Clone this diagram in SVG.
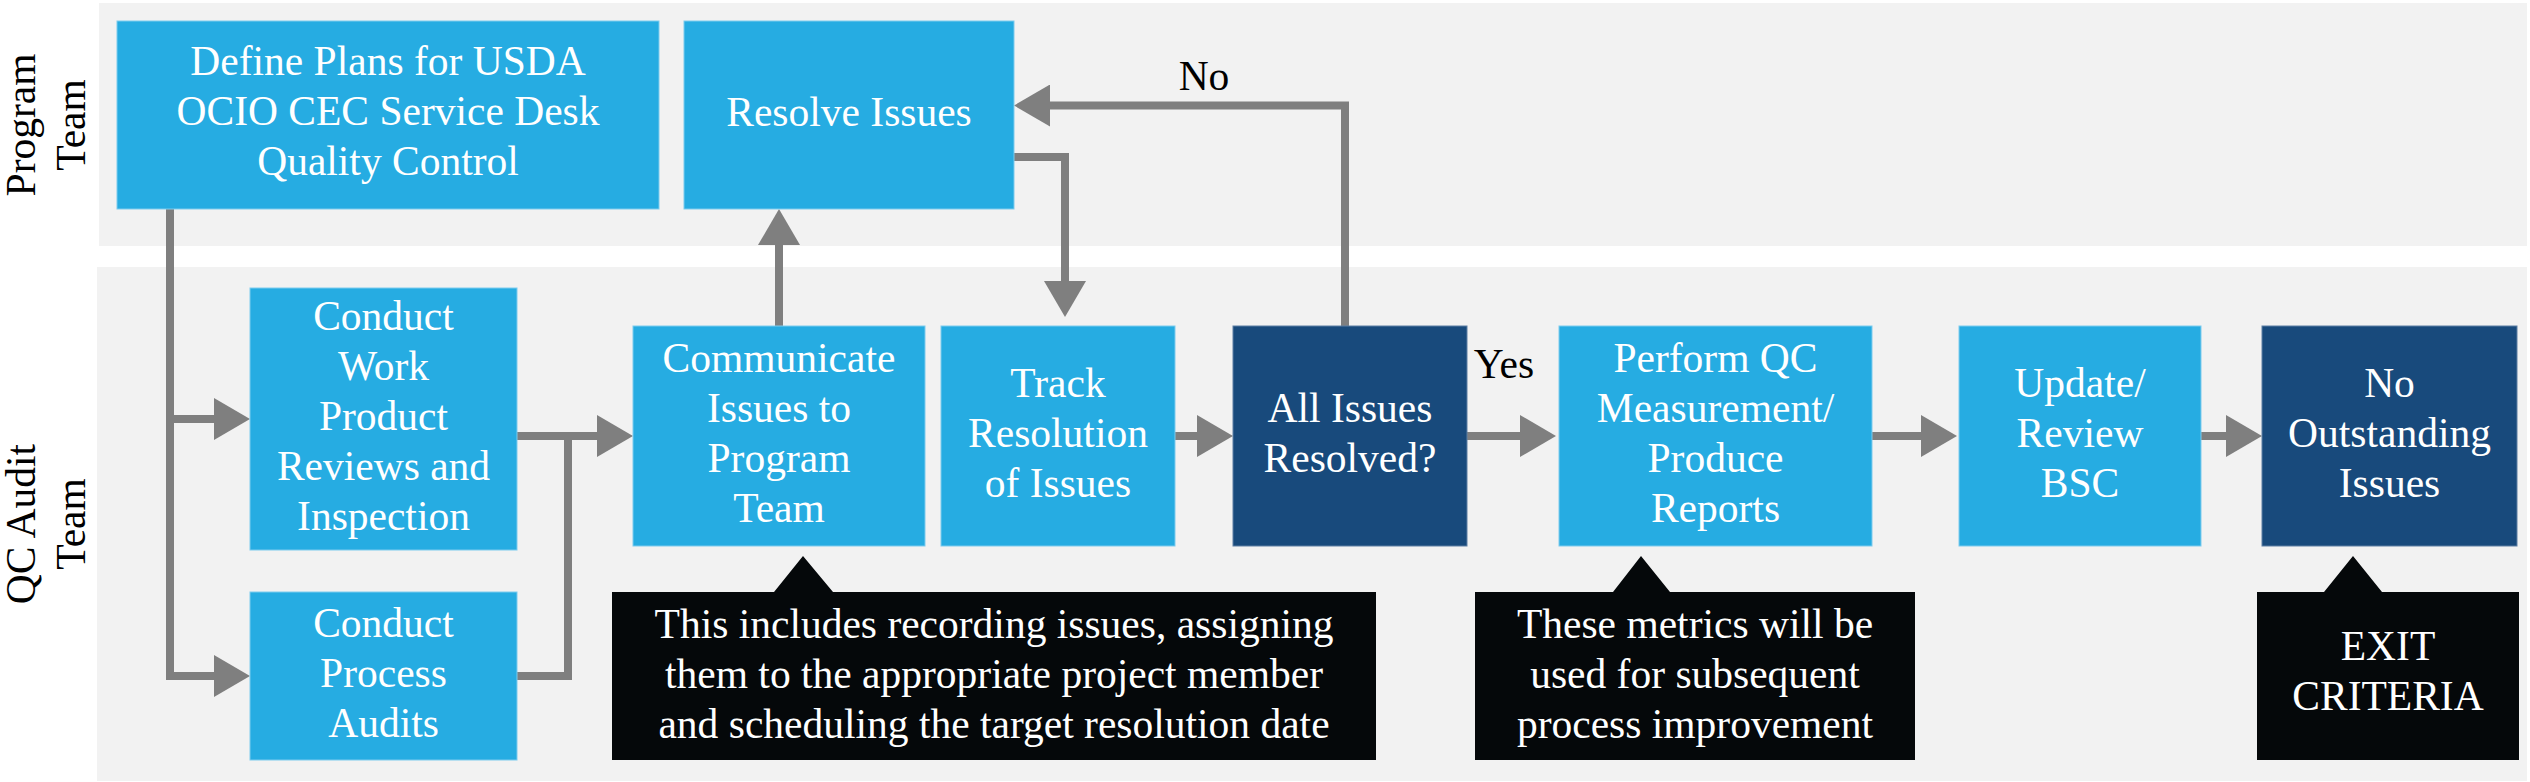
<svg xmlns="http://www.w3.org/2000/svg" width="2530" height="782" viewBox="0 0 2530 782">
<defs>
<style>
.band{fill:#f2f2f2}
.lt{fill:#26ace2;stroke:#7ccbee;stroke-width:1}
.dk{fill:#184a7c;stroke:#5d7fa3;stroke-width:1}
.co{fill:#05080a}
.t{font-family:"Liberation Serif","Times New Roman",serif;font-size:41.5px;text-anchor:middle}
.w{fill:#ffffff}
.b{fill:#000000}
.c{fill:none;stroke:#7f7f7f;stroke-width:8;stroke-linejoin:miter;stroke-linecap:butt}
</style>
<marker id="ah" markerUnits="userSpaceOnUse" markerWidth="36" markerHeight="42" refX="0" refY="21" orient="auto" viewBox="0 0 36 42">
<path d="M0,0 L36,21 L0,42 z" fill="#7f7f7f"/>
</marker>
</defs>
<rect width="2530" height="782" fill="#ffffff"/>
<g id="lanes">
<rect class="band" x="99" y="3" width="2428" height="243"/>
<rect class="band" x="97" y="267" width="2430" height="514"/>
<text class="t b" transform="translate(35,125) rotate(-90)">Program</text>
<text class="t b" transform="translate(85,125) rotate(-90)">Team</text>
<text class="t b" transform="translate(35,524) rotate(-90)">QC Audit</text>
<text class="t b" transform="translate(85,524) rotate(-90)">Team</text>
</g>
<g id="connectors">
<path class="c" d="M170,209 V676 H214" marker-end="url(#ah)"/>
<path class="c" d="M170,419 H214" marker-end="url(#ah)"/>
<path class="c" d="M517,436 H597" marker-end="url(#ah)"/>
<path class="c" d="M517,676 H568 V436"/>
<path class="c" d="M779,326 V245" marker-end="url(#ah)"/>
<path class="c" d="M1014,157 H1065 V281" marker-end="url(#ah)"/>
<path class="c" d="M1175,436 H1197" marker-end="url(#ah)"/>
<path class="c" d="M1345,326 V105.5 H1050" marker-end="url(#ah)"/>
<path class="c" d="M1467,436 H1520" marker-end="url(#ah)"/>
<path class="c" d="M1872,436 H1921" marker-end="url(#ah)"/>
<path class="c" d="M2201,436 H2226" marker-end="url(#ah)"/>
<text class="t b" x="1204" y="90">No</text>
<text class="t b" x="1504" y="378">Yes</text>
</g>
<g id="define">
<rect class="lt" x="117" y="21" width="542" height="188"/>
<text class="t w" x="388" y="75">Define Plans for USDA</text>
<text class="t w" x="388" y="125">OCIO CEC Service Desk</text>
<text class="t w" x="388" y="175">Quality Control</text>
</g>
<g id="resolve">
<rect class="lt" x="684" y="21" width="330" height="188"/>
<text class="t w" x="849" y="126">Resolve Issues</text>
</g>
<g id="conduct-work">
<rect class="lt" x="250" y="288" width="267" height="262"/>
<text class="t w" x="383.5" y="330">Conduct</text>
<text class="t w" x="383.5" y="380">Work</text>
<text class="t w" x="383.5" y="430">Product</text>
<text class="t w" x="383.5" y="480">Reviews and</text>
<text class="t w" x="383.5" y="530">Inspection</text>
</g>
<g id="conduct-process">
<rect class="lt" x="250" y="592" width="267" height="168"/>
<text class="t w" x="383.5" y="637">Conduct</text>
<text class="t w" x="383.5" y="687">Process</text>
<text class="t w" x="383.5" y="737">Audits</text>
</g>
<g id="communicate">
<rect class="lt" x="633" y="326" width="292" height="220"/>
<text class="t w" x="779" y="372">Communicate</text>
<text class="t w" x="779" y="422">Issues to</text>
<text class="t w" x="779" y="472">Program</text>
<text class="t w" x="779" y="522">Team</text>
</g>
<g id="track">
<rect class="lt" x="941" y="326" width="234" height="220"/>
<text class="t w" x="1058" y="397">Track</text>
<text class="t w" x="1058" y="447">Resolution</text>
<text class="t w" x="1058" y="497">of Issues</text>
</g>
<g id="all-resolved">
<rect class="dk" x="1233" y="326" width="234" height="220"/>
<text class="t w" x="1350" y="422">All Issues</text>
<text class="t w" x="1350" y="472">Resolved?</text>
</g>
<g id="perform-qc">
<rect class="lt" x="1559" y="326" width="313" height="220"/>
<text class="t w" x="1715.5" y="372">Perform QC</text>
<text class="t w" x="1715.5" y="422">Measurement/</text>
<text class="t w" x="1715.5" y="472">Produce</text>
<text class="t w" x="1715.5" y="522">Reports</text>
</g>
<g id="update-bsc">
<rect class="lt" x="1959" y="326" width="242" height="220"/>
<text class="t w" x="2080" y="397">Update/</text>
<text class="t w" x="2080" y="447">Review</text>
<text class="t w" x="2080" y="497">BSC</text>
</g>
<g id="no-outstanding">
<rect class="dk" x="2262" y="326" width="255" height="220"/>
<text class="t w" x="2389.5" y="397">No</text>
<text class="t w" x="2389.5" y="447">Outstanding</text>
<text class="t w" x="2389.5" y="497">Issues</text>
</g>
<g id="callout-issues">
<path class="co" d="M612,592 H774 L803,556 L833,592 H1376 V760 H612 z"/>
<text class="t w" x="994" y="638">This includes recording issues, assigning</text>
<text class="t w" x="994" y="688">them to the appropriate project member</text>
<text class="t w" x="994" y="738">and scheduling the target resolution date</text>
</g>
<g id="callout-metrics">
<path class="co" d="M1475,592 H1613 L1641,556 L1670,592 H1915 V760 H1475 z"/>
<text class="t w" x="1695" y="638">These metrics will be</text>
<text class="t w" x="1695" y="688">used for subsequent</text>
<text class="t w" x="1695" y="738">process improvement</text>
</g>
<g id="callout-exit">
<path class="co" d="M2257,592 H2324 L2353,556 L2382,592 H2519 V760 H2257 z"/>
<text class="t w" x="2388" y="660">EXIT</text>
<text class="t w" x="2388" y="710">CRITERIA</text>
</g>
</svg>
